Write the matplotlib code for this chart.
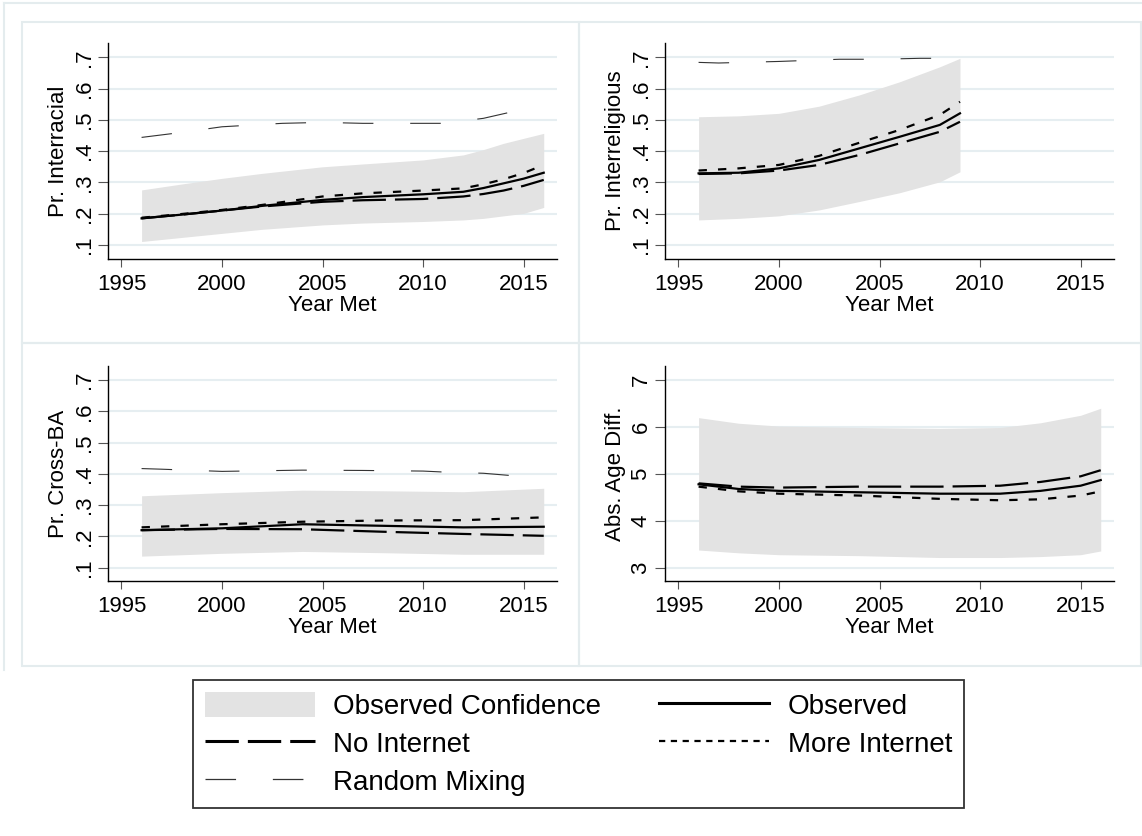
import matplotlib
matplotlib.use("Agg")
import matplotlib.pyplot as plt
from matplotlib.lines import Line2D
from matplotlib.patches import Patch, Rectangle

# =========================
# DATA
# =========================
# Interracial
race_years = [1996, 1998, 2000, 2002, 2005, 2007, 2010, 2012, 2013, 2014, 2015, 2016]
race_ci_hi = [0.276, 0.295, 0.313, 0.329, 0.350, 0.359, 0.372, 0.388, 0.405, 0.425, 0.441, 0.457]
race_ci_lo = [0.111, 0.124, 0.137, 0.150, 0.164, 0.170, 0.175, 0.180, 0.185, 0.193, 0.201, 0.220]
race_obs = [0.185, 0.197, 0.210, 0.225, 0.244, 0.253, 0.262, 0.270, 0.282, 0.297, 0.312, 0.331]
race_noint = [0.185, 0.197, 0.210, 0.223, 0.238, 0.243, 0.247, 0.255, 0.263, 0.274, 0.289, 0.308]
race_more = [0.187, 0.199, 0.212, 0.228, 0.255, 0.265, 0.274, 0.281, 0.294, 0.310, 0.330, 0.356]
race_rand_years = [1996, 1998, 2000, 2003, 2005, 2007, 2010, 2011, 2013, 2014.5]
race_rand = [0.444, 0.460, 0.478, 0.489, 0.492, 0.489, 0.489, 0.489, 0.505, 0.527]

# Interreligious
rel_years = [1996, 1998, 2000, 2002, 2004, 2006, 2008, 2009]
rel_ci_hi = [0.510, 0.513, 0.521, 0.544, 0.580, 0.622, 0.670, 0.697]
rel_ci_lo = [0.180, 0.185, 0.193, 0.212, 0.239, 0.267, 0.302, 0.334]
rel_obs = [0.329, 0.331, 0.345, 0.372, 0.409, 0.446, 0.484, 0.521]
rel_noint = [0.327, 0.329, 0.338, 0.356, 0.388, 0.425, 0.462, 0.494]
rel_more = [0.338, 0.345, 0.356, 0.385, 0.427, 0.468, 0.516, 0.558]
rel_rand_years = [1996, 1997, 2000, 2003, 2005, 2007, 2009]
rel_rand = [0.684, 0.682, 0.687, 0.694, 0.694, 0.697, 0.697]

# Cross-BA
ba_years = [1996, 2000, 2004, 2008, 2012, 2016]
ba_ci_hi = [0.330, 0.340, 0.348, 0.346, 0.343, 0.354]
ba_ci_lo = [0.137, 0.146, 0.152, 0.148, 0.143, 0.143]
ba_obs = [0.220, 0.226, 0.239, 0.234, 0.229, 0.231]
ba_noint = [0.220, 0.224, 0.223, 0.215, 0.208, 0.202]
ba_more = [0.229, 0.239, 0.247, 0.251, 0.252, 0.261]
ba_rand_years = [1996, 1997, 2000, 2004, 2007, 2010, 2011, 2013, 2014.5]
ba_rand = [0.417, 0.415, 0.408, 0.412, 0.411, 0.409, 0.406, 0.402, 0.394]

# Abs. age difference
age_years = [1996, 1998, 2000, 2004, 2008, 2011, 2013, 2015, 2016]
age_ci_hi = [6.20, 6.08, 6.02, 5.99, 5.97, 5.99, 6.09, 6.25, 6.40]
age_ci_lo = [3.38, 3.32, 3.28, 3.26, 3.22, 3.22, 3.24, 3.28, 3.36]
age_obs = [4.78, 4.68, 4.64, 4.61, 4.58, 4.58, 4.64, 4.75, 4.87]
age_noint = [4.80, 4.73, 4.71, 4.73, 4.73, 4.75, 4.83, 4.95, 5.08]
age_more = [4.73, 4.63, 4.58, 4.54, 4.47, 4.44, 4.46, 4.54, 4.63]

x_ticks = [1995, 2000, 2005, 2010, 2015]
pr_ticks = [0.1, 0.2, 0.3, 0.4, 0.5, 0.6, 0.7]
pr_labels = [".1", ".2", ".3", ".4", ".5", ".6", ".7"]
age_ticks = [3, 4, 5, 6, 7]
age_labels = ["3", "4", "5", "6", "7"]

# =========================
# STYLE
# =========================
plt.rcParams["font.family"] = ["Liberation Sans", "DejaVu Sans"]
plt.rcParams["lines.scale_dashes"] = False

W, H = 1142, 836
CI_COLOR = "#e3e3e3"
GRID_COLOR = "#e6eef1"
FRAME_COLOR = "#e4ecee"

OBS_STYLE = dict(color="black", lw=1.6, linestyle="-")
NOINT_STYLE = dict(color="black", lw=1.6, linestyle=(0, (24, 6.5)))
MORE_STYLE = dict(color="black", lw=1.6, linestyle=(0, (6, 8)))
RAND_STYLE = dict(color="#333333", lw=0.8, linestyle=(0, (22, 26.5)))

fig = plt.figure(figsize=(W / 100, H / 100), dpi=100)
fig.patch.set_facecolor("white")


def px_box(x0, y0, x1, y1):
    return [x0 / W, 1 - y1 / H, (x1 - x0) / W, (y1 - y0) / H]


# faint panel frames, like the Stata graph regions
def frame(x0, y0, x1, y1):
    fig.patches.append(Rectangle((x0 / W, 1 - y1 / H), (x1 - x0) / W, (y1 - y0) / H,
                                 transform=fig.transFigure, facecolor="none",
                                 edgecolor=FRAME_COLOR, lw=1.5, zorder=0))


fig.add_artist(Line2D([4 / W, 1], [1 - 3 / H, 1 - 3 / H], color=FRAME_COLOR, lw=1.5))
fig.add_artist(Line2D([4 / W, 4 / W], [1 - 3 / H, 1 - 670 / H], color=FRAME_COLOR, lw=1.5))
frame(22, 22, 579, 343)
frame(579, 22, 1141, 343)
frame(22, 343, 579, 666)
frame(579, 343, 1141, 666)


def panel(box, ylabel, years, ci_lo, ci_hi, obs, noint, more, rand_years, rand,
          ylim, yticks, ylabels):
    ax = fig.add_axes(px_box(*box))
    ax.fill_between(years, ci_lo, ci_hi, color=CI_COLOR, lw=0, zorder=1)
    if rand_years is not None:
        ax.plot(rand_years, rand, zorder=3, **RAND_STYLE)
    ax.plot(years, noint, zorder=3, **NOINT_STYLE)
    ax.plot(years, more, zorder=3, **MORE_STYLE)
    ax.plot(years, obs, zorder=4, **OBS_STYLE)

    ax.set_xlim(1994.33, 2016.66)
    ax.set_ylim(*ylim)
    ax.set_xticks(x_ticks)
    ax.set_yticks(yticks)
    ax.set_yticklabels(ylabels, rotation=90, va="center")
    ax.grid(axis="y", color=GRID_COLOR, lw=1.5, zorder=0)
    ax.set_axisbelow(True)
    for s in ["top", "right"]:
        ax.spines[s].set_visible(False)
    for s in ["left", "bottom"]:
        ax.spines[s].set_linewidth(1.0)
    ax.tick_params(axis="x", length=6, width=0.8, color="#555555", pad=5, labelsize=16)
    ax.tick_params(axis="y", length=7.2, width=0.8, color="#555555", pad=2.5, labelsize=16)
    ax.set_xlabel("Year Met", fontsize=16, labelpad=0)
    ax.set_ylabel(ylabel, fontsize=16, labelpad=3)
    return ax


panel((108, 43, 557, 259), "Pr. Interracial", race_years, race_ci_lo, race_ci_hi,
      race_obs, race_noint, race_more, race_rand_years, race_rand,
      (0.055, 0.746), pr_ticks, pr_labels)
panel((665, 43, 1114, 259), "Pr. Interreligious", rel_years, rel_ci_lo, rel_ci_hi,
      rel_obs, rel_noint, rel_more, rel_rand_years, rel_rand,
      (0.055, 0.746), pr_ticks, pr_labels)
panel((108, 366, 557, 581), "Pr. Cross-BA", ba_years, ba_ci_lo, ba_ci_hi,
      ba_obs, ba_noint, ba_more, ba_rand_years, ba_rand,
      (0.0575, 0.745), pr_ticks, pr_labels)
panel((665, 366, 1114, 581), "Abs. Age Diff.", age_years, age_ci_lo, age_ci_hi,
      age_obs, age_noint, age_more, None, None,
      (2.72, 7.3), age_ticks, age_labels)

# =========================
# LEGEND
# =========================
handles = [
    Patch(facecolor=CI_COLOR, edgecolor="none"),
    Line2D([], [], color="black", lw=2.2, linestyle=(0, (24, 6.5))),
    Line2D([], [], color="#333333", lw=0.9, linestyle=(0, (22, 26.5))),
    Line2D([], [], color="black", lw=2.2),
    Line2D([], [], color="black", lw=1.6, linestyle=(0, (4.5, 4))),
]
labels = ["Observed Confidence", "No Internet", "Random Mixing", "Observed", "More Internet"]
x0, y0, x1, y1 = 185, 676, 972, 812
leg = fig.legend(handles, labels, ncol=2, loc="center",
                 bbox_to_anchor=((x0 + x1) / 2 / W, 1 - (y0 + y1) / 2 / H),
                 fontsize=20, frameon=True, fancybox=False, edgecolor="black",
                 handlelength=3.96, handleheight=1.04, handletextpad=0.65,
                 columnspacing=2.1, labelspacing=0.36, borderpad=0.43,
                 borderaxespad=0)
leg.get_frame().set_linewidth(1.3)

fig.savefig("out.png", dpi=100, facecolor="white")
